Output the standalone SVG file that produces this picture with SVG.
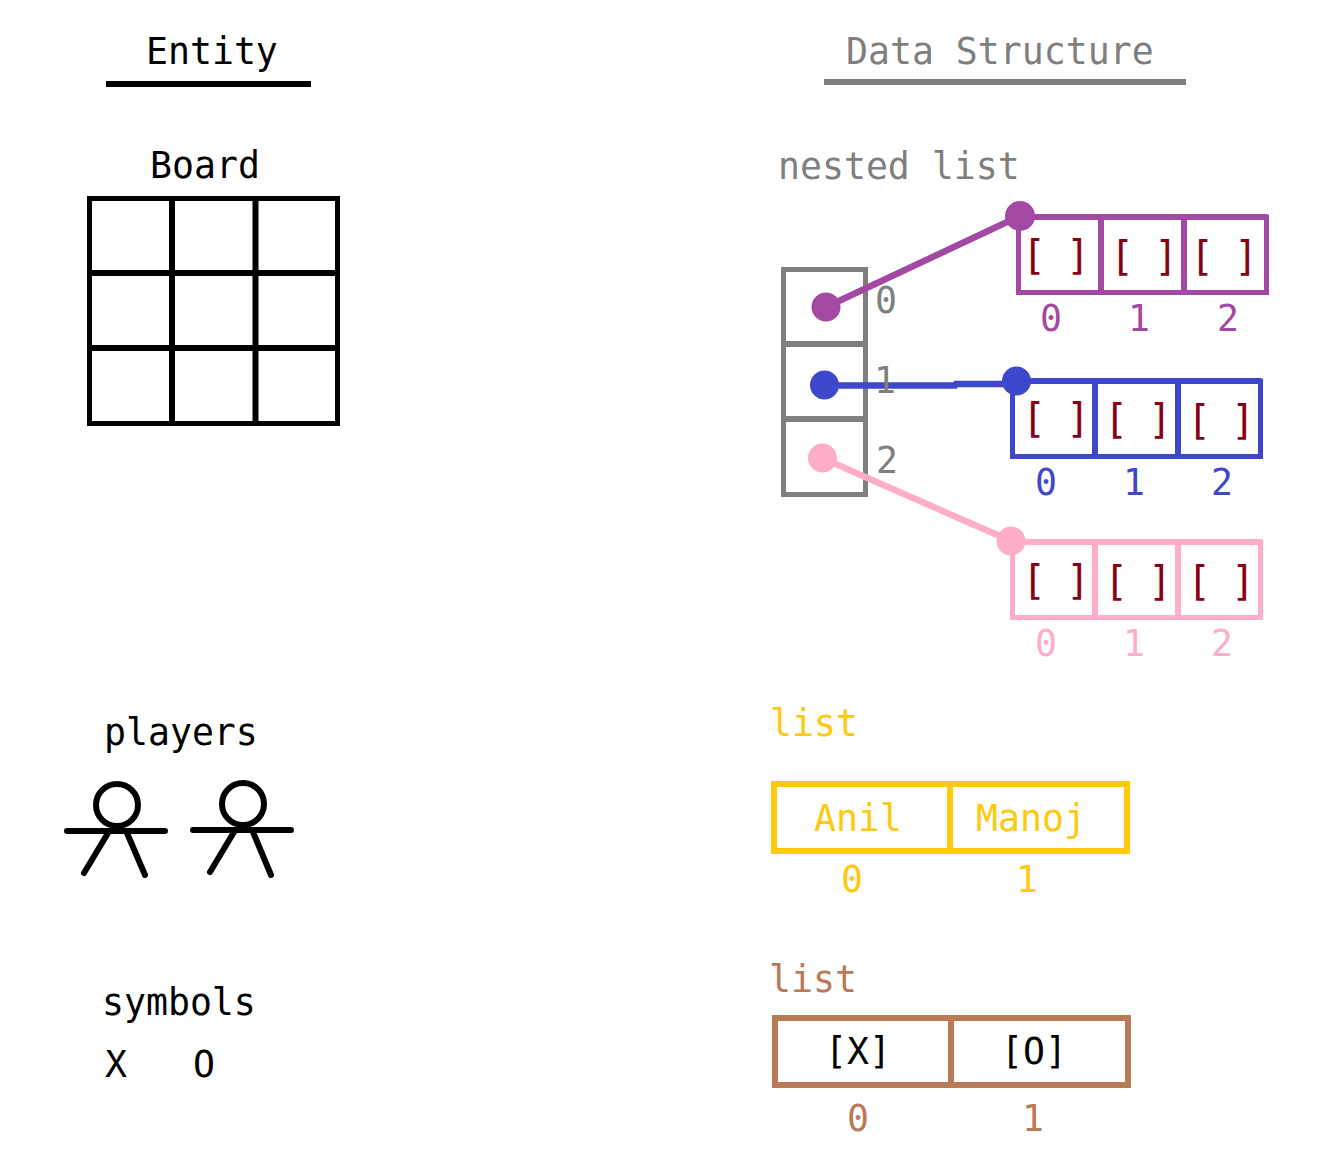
<svg xmlns="http://www.w3.org/2000/svg" width="1330" height="1154" viewBox="0 0 1330 1154">
<style>
text{font-family:"DejaVu Sans Mono","Liberation Mono",monospace;font-size:36.5px}
.k{fill:#000}.g{fill:#7f7f7f}.p{fill:#a349a4}.b{fill:#3f48cc}.n{fill:#ffaec9}.y{fill:#ffc90e}.w{fill:#b97a57}
.r{fill:#880015;font-size:40px;letter-spacing:-2.08px}
.box{fill:#fff;stroke-width:5}
.c{fill:none;stroke-width:6.5}
</style>
<rect width="1330" height="1154" fill="#fff"/>
<g id="entity-title"><text class="k" x="146" y="64">Entity</text><path d="M106 84H311" stroke="#000" stroke-width="6"/></g>
<g id="ds-title"><text class="g" x="846" y="64">Data Structure</text><path d="M824 82H1186" stroke="#7f7f7f" stroke-width="6"/></g>
<g id="board"><text class="k" x="150" y="178">Board</text>
<rect class="box" x="89.5" y="198.500" width="248" height="225" stroke="#000"/>
<path d="M172 198V424M255.500 198V424M89 273H338M89 348H338" stroke="#000" stroke-width="6" fill="none"/></g>
<g id="players"><text class="k" x="104" y="745">players</text>
<g stroke="#000" fill="none" stroke-width="6" stroke-linecap="round">
<circle cx="117" cy="805" r="21"/><path d="M67 831H165M108 833L84 873M127 833L145 875"/>
<circle cx="243" cy="804" r="21"/><path d="M193 830H291M234 832L210 872M253 832L271 875"/></g></g>
<g id="symbols"><text class="k" x="102" y="1015">symbols</text><text class="k" x="105" y="1077">X</text><text class="k" x="193" y="1077">O</text></g>
<g id="nested-outer"><text class="g" x="778" y="179">nested list</text>
<rect class="box" x="783.5" y="269.5" width="82" height="225" stroke="#7f7f7f"/>
<path d="M783 344H866M783 419H866" stroke="#7f7f7f" stroke-width="6"/></g>
<g id="list-purple">
<rect class="box" x="1018.5" y="217" width="248" height="75.5" stroke="#a349a4"/>
<path d="M1018 217H1267" stroke="#a349a4" stroke-width="6"/>
<path d="M1101 216V293M1184 216V293" stroke="#a349a4" stroke-width="6"/>
<text class="r" x="1022" y="269">[ ]</text><text class="r" x="1110" y="270">[ ]</text><text class="r" x="1190" y="270">[ ]</text>
<text class="p" x="1040" y="331">0</text><text class="p" x="1128" y="331">1</text><text class="p" x="1217" y="331">2</text></g>
<g id="list-blue">
<rect class="box" x="1012.5" y="381" width="248" height="75.5" stroke="#3f48cc"/>
<path d="M1012 381H1261" stroke="#3f48cc" stroke-width="6"/>
<path d="M1095 380V457M1178 380V457" stroke="#3f48cc" stroke-width="6"/>
<text class="r" x="1022" y="432">[ ]</text><text class="r" x="1104" y="433">[ ]</text><text class="r" x="1187" y="434">[ ]</text>
<text class="b" x="1035" y="495">0</text><text class="b" x="1123" y="495">1</text><text class="b" x="1211" y="495">2</text></g>
<g id="list-pink">
<rect class="box" x="1012.5" y="542" width="248" height="75.5" stroke="#ffaec9"/>
<path d="M1012 542H1261" stroke="#ffaec9" stroke-width="6"/>
<path d="M1095 541V618M1178 541V618" stroke="#ffaec9" stroke-width="6"/>
<text class="r" x="1022" y="594">[ ]</text><text class="r" x="1104" y="595">[ ]</text><text class="r" x="1187" y="595">[ ]</text>
<text class="n" x="1035" y="656">0</text><text class="n" x="1123" y="656">1</text><text class="n" x="1211" y="656">2</text></g>
<g id="connectors">
<path class="c" stroke="#a349a4" d="M826 307L1020 216"/>
<path class="c" stroke="#3f48cc" d="M824 385.500H955L956 384H1016"/>
<path class="c" stroke="#ffaec9" d="M822 458L1011 541"/>
</g>
<g id="outer-indexes"><text class="g" x="875" y="313">0</text><text class="g" x="874" y="393">1</text><text class="g" x="876" y="473">2</text></g>
<g id="dots">
<circle cx="826" cy="307" r="14.5" fill="#a349a4"/><circle cx="1020" cy="216" r="15" fill="#a349a4"/>
<circle cx="824.5" cy="385" r="14.5" fill="#3f48cc"/><circle cx="1016.500" cy="381" r="14.5" fill="#3f48cc"/>
<circle cx="822.500" cy="458" r="14.5" fill="#ffaec9"/><circle cx="1011" cy="541" r="14.500" fill="#ffaec9"/>
</g>
<g id="list-yellow"><text class="y" x="770" y="736">list</text>
<rect class="box" x="774" y="784" width="353" height="67" stroke="#ffc90e" style="stroke-width:6"/>
<path d="M950 784V851" stroke="#ffc90e" stroke-width="6"/>
<text class="y" x="814" y="831">Anil</text><text class="y" x="976" y="831">Manoj</text>
<text class="y" x="841" y="892">0</text><text class="y" x="1016" y="892">1</text></g>
<g id="list-brown"><text class="w" x="769" y="992">list</text>
<rect class="box" x="775" y="1018" width="353" height="67" stroke="#b97a57" style="stroke-width:6"/>
<path d="M951 1018V1085" stroke="#b97a57" stroke-width="6"/>
<text class="k" x="825" y="1064">[X]</text><text class="k" x="1001" y="1064">[O]</text>
<text class="w" x="847" y="1131">0</text><text class="w" x="1022" y="1131">1</text></g>
</svg>
